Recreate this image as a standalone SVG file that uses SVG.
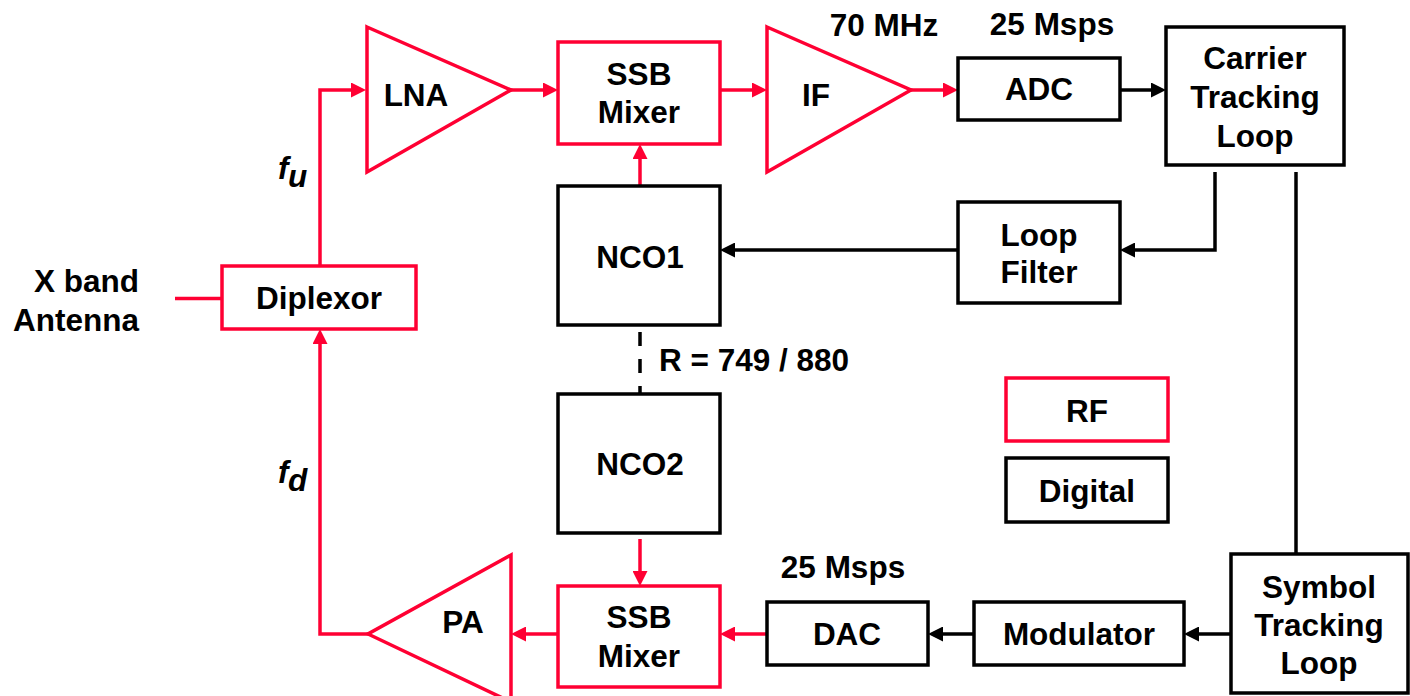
<svg xmlns="http://www.w3.org/2000/svg" width="1410" height="696" viewBox="0 0 1410 696">
<style>
text{font-family:"Liberation Sans",Arial,sans-serif;font-weight:bold;font-size:31.5px;fill:#000}
.m{text-anchor:middle}
.e{text-anchor:end}
.rf{fill:none;stroke:#FF0033;stroke-width:3.5}
.dg{fill:none;stroke:#000;stroke-width:3.5}
.rl{fill:none;stroke:#FF0033;stroke-width:3.5}
.bl{fill:none;stroke:#000;stroke-width:3.5}
.it{font-style:italic}
</style>
<defs>
<marker id="ar" viewBox="0 0 15 15" refX="11" refY="7.5" markerWidth="15" markerHeight="15" markerUnits="userSpaceOnUse" orient="auto">
<path d="M0,0 L15,7.5 L0,15 z" fill="#FF0033"/>
</marker>
<marker id="ab" viewBox="0 0 15 15" refX="11" refY="7.5" markerWidth="15" markerHeight="15" markerUnits="userSpaceOnUse" orient="auto">
<path d="M0,0 L15,7.5 L0,15 z" fill="#000"/>
</marker>
</defs>
<rect width="1410" height="696" fill="#fff"/>

<g id="connectors">
<line class="rl" x1="175" y1="298.5" x2="222" y2="298.5"/>
<path class="rl" d="M320,266 V90 H362" marker-end="url(#ar)"/>
<line class="rl" x1="511" y1="90" x2="554" y2="90" marker-end="url(#ar)"/>
<line class="rl" x1="720" y1="90" x2="763" y2="90" marker-end="url(#ar)"/>
<line class="rl" x1="911" y1="90" x2="954" y2="90" marker-end="url(#ar)"/>
<line class="bl" x1="1120" y1="90" x2="1162" y2="90" marker-end="url(#ab)"/>
<line class="rl" x1="640" y1="186" x2="640" y2="148" marker-end="url(#ar)"/>
<path class="bl" d="M1215,172 V250 H1124" marker-end="url(#ab)"/>
<line class="bl" x1="958" y1="250" x2="724" y2="250" marker-end="url(#ab)"/>
<line class="bl" x1="1296" y1="172" x2="1296" y2="554"/>
<line class="bl" x1="640" y1="332" x2="640" y2="394" stroke-dasharray="14 13"/>
<line class="rl" x1="640" y1="539" x2="640" y2="582" marker-end="url(#ar)"/>
<line class="bl" x1="1231" y1="634" x2="1188" y2="634" marker-end="url(#ab)"/>
<line class="bl" x1="974" y1="634" x2="932" y2="634" marker-end="url(#ab)"/>
<line class="rl" x1="767" y1="634" x2="724" y2="634" marker-end="url(#ar)"/>
<line class="rl" x1="558" y1="634" x2="515" y2="634" marker-end="url(#ar)"/>
<path class="rl" d="M368,634 H320 V333" marker-end="url(#ar)"/>
</g>

<g id="antenna">
<text class="e" x="139" y="292">X band</text>
<text class="e" x="139" y="331">Antenna</text>
</g>

<g id="diplexor">
<rect class="rf" x="222" y="266" width="194" height="63"/>
<text class="m" x="319" y="309">Diplexor</text>
</g>

<g id="fu">
<text class="it" x="278" y="179" font-size="28">f</text>
<text class="it" x="288" y="187" font-size="20">u</text>
</g>
<g id="fd">
<text class="it" x="278" y="483" font-size="28">f</text>
<text class="it" x="288" y="491" font-size="20">d</text>
</g>

<g id="lna">
<polygon class="rf" points="367,27 511,90 367,172"/>
<text class="m" x="416" y="106">LNA</text>
</g>

<g id="mixer1">
<rect class="rf" x="558" y="42" width="162" height="102"/>
<text class="m" x="639" y="85">SSB</text>
<text class="m" x="639" y="123">Mixer</text>
</g>

<g id="if">
<polygon class="rf" points="767,27 911,90 767,172"/>
<text x="802" y="106">IF</text>
</g>

<g id="label70">
<text class="m" x="884" y="36">70 MHz</text>
</g>
<g id="label25a">
<text class="m" x="1052" y="35">25 Msps</text>
</g>

<g id="adc">
<rect class="dg" x="958" y="58" width="162" height="62"/>
<text class="m" x="1039" y="100">ADC</text>
</g>

<g id="carrier">
<rect class="dg" x="1166" y="27" width="178" height="138"/>
<text class="m" x="1255" y="69">Carrier</text>
<text class="m" x="1255" y="108">Tracking</text>
<text class="m" x="1255" y="147">Loop</text>
</g>

<g id="loopfilter">
<rect class="dg" x="958" y="202" width="162" height="101"/>
<text class="m" x="1039" y="246">Loop</text>
<text class="m" x="1039" y="283">Filter</text>
</g>

<g id="nco1">
<rect class="dg" x="558" y="186" width="162" height="139"/>
<text class="m" x="640" y="268">NCO1</text>
</g>

<g id="ratio">
<text x="659" y="371">R = 749 / 880</text>
</g>

<g id="nco2">
<rect class="dg" x="558" y="394" width="162" height="139"/>
<text class="m" x="640" y="475">NCO2</text>
</g>

<g id="legend-rf">
<rect class="rf" x="1006" y="378" width="162" height="63"/>
<text class="m" x="1087" y="422">RF</text>
</g>
<g id="legend-digital">
<rect class="dg" x="1006" y="458" width="162" height="64"/>
<text class="m" x="1087" y="502">Digital</text>
</g>

<g id="pa">
<polygon class="rf" points="511,555 368,634 511,702"/>
<text class="m" x="463" y="633">PA</text>
</g>

<g id="mixer2">
<rect class="rf" x="558" y="586" width="162" height="101"/>
<text class="m" x="639" y="628">SSB</text>
<text class="m" x="639" y="667">Mixer</text>
</g>

<g id="label25b">
<text class="m" x="843" y="578">25 Msps</text>
</g>

<g id="dac">
<rect class="dg" x="767" y="602" width="161" height="63"/>
<text class="m" x="847" y="645">DAC</text>
</g>

<g id="modulator">
<rect class="dg" x="974" y="602" width="210" height="63"/>
<text class="m" x="1079" y="645">Modulator</text>
</g>

<g id="symbol">
<rect class="dg" x="1231" y="554" width="177" height="139"/>
<text class="m" x="1319" y="598">Symbol</text>
<text class="m" x="1319" y="636">Tracking</text>
<text class="m" x="1319" y="674">Loop</text>
</g>
</svg>
